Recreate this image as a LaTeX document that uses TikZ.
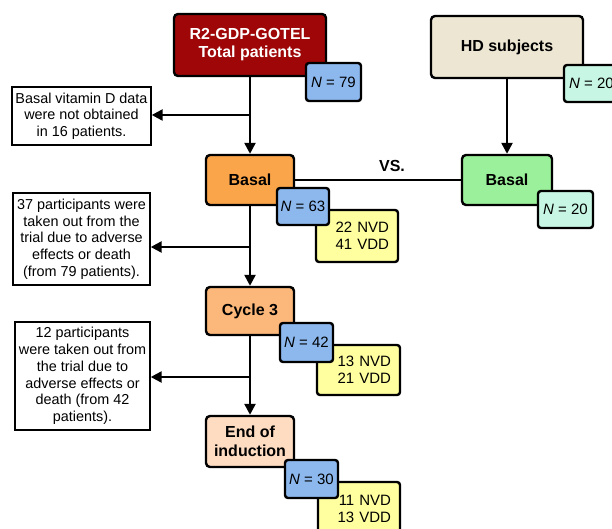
\documentclass[tikz,border=0pt]{standalone}
\usepackage{fontspec}
\setmainfont{Liberation Sans}
\usetikzlibrary{arrows.meta}
\definecolor{redbox}{RGB}{158,6,8}
\definecolor{nblue}{RGB}{140,184,238}
\definecolor{mint}{RGB}{200,246,228}
\definecolor{beige}{RGB}{237,230,211}
\definecolor{greenbox}{RGB}{155,240,155}
\definecolor{orangeA}{RGB}{251,165,74}
\definecolor{orangeB}{RGB}{251,184,122}
\definecolor{peach}{RGB}{253,220,194}
\definecolor{yell}{RGB}{255,255,160}
\begin{document}
\begin{tikzpicture}[x=1pt,y=-1pt,
  mainbox/.style={draw=black, line width=2.4pt, rounded corners=4pt, align=center, inner sep=0pt,
    font=\fontsize{16}{19}\selectfont\bfseries},
  nbox/.style={draw=black, line width=2.4pt, rounded corners=3pt, inner sep=0pt, fill=nblue,
    font=\fontsize{15}{17}\selectfont},
  countbox/.style={draw=black, line width=2.4pt, rounded corners=3pt, fill=yell, align=right,
    inner xsep=8pt, inner ysep=0pt, font=\fontsize{15}{17.5}\selectfont},
  note/.style={draw=black, line width=1.4pt, fill=white, align=center, inner sep=0pt,
    font=\fontsize{14.4}{16.7}\selectfont},
  conn/.style={line width=2.4pt},
  arr/.style={line width=2.4pt, -{Triangle[length=11pt,width=11pt]}}
]
\useasboundingbox (0,0) rectangle (612,529);
\clip (0,0) rectangle (612,529);
\fill[white] (0,0) rectangle (612,529);

% left column
\node[mainbox, fill=redbox, text=white, minimum width=152pt, minimum height=62pt] (red) at (250,45) {R2-GDP-GOTEL\\[-1pt]Total patients};
\node[nbox, minimum width=55pt, minimum height=38pt] (n79) at (333.5,82) {\textit{N} = 79};

\node[note, minimum width=139pt, minimum height=58pt] (note1) at (81.5,116) {Basal vitamin D data\\were not obtained\\in 16 patients.};

\node[mainbox, fill=orangeA, minimum width=88pt, minimum height=50pt] (basal) at (250,180) {Basal};
\node[countbox, minimum width=82pt, minimum height=52pt, text width=64pt] (y1) at (357,236) {22 NVD\\41 VDD};
\node[nbox, minimum width=52pt, minimum height=37pt] (n63) at (303,206.5) {\textit{N} = 63};

\node[note, minimum width=137pt, minimum height=92pt] (note2) at (81.5,239) {37 participants were\\taken out from the\\trial due to adverse\\effects or death\\(from 79 patients).};

\node[mainbox, fill=orangeB, minimum width=88pt, minimum height=48pt] (cycle) at (250,311) {Cycle 3};
\node[countbox, minimum width=83pt, minimum height=50pt, text width=65pt] (y2) at (358.5,370) {13 NVD\\21 VDD};
\node[nbox, minimum width=53pt, minimum height=39pt] (n42) at (306.5,342.5) {\textit{N} = 42};

\node[note, minimum width=135pt, minimum height=108pt] (note3) at (82.5,376) {12 participants\\were taken out from\\the trial due to\\adverse effects or\\death (from 42\\patients).};

\node[mainbox, fill=peach, minimum width=88pt, minimum height=51pt] (endind) at (250,441.5) {End of\\induction};
\node[countbox, minimum width=82pt, minimum height=54pt, text width=64pt] (y3) at (359,509) {11 NVD\\13 VDD};
\node[nbox, minimum width=53pt, minimum height=38pt] (n30) at (311.5,479) {\textit{N} = 30};

% right column
\node[mainbox, fill=beige, minimum width=152pt, minimum height=62pt] (hd) at (507,47) {HD subjects};
\node[nbox, fill=mint, minimum width=55pt, minimum height=37pt] (n20a) at (591.5,83.5) {\textit{N} = 20};
\node[mainbox, fill=greenbox, minimum width=90pt, minimum height=50pt] (green) at (507,180) {Basal};
\node[nbox, fill=mint, minimum width=55pt, minimum height=37pt] (n20b) at (565.5,209.5) {\textit{N} = 20};

\node[font=\fontsize{16}{19}\selectfont\bfseries, inner sep=0pt] (vs) at (392,166) {VS.};

% connectors
\coordinate (j1) at (250,115);
\coordinate (j2) at (250,247);
\coordinate (j3) at (250,377);
\draw[arr] (red) -- (basal);
\draw[arr] (j1) -- (j1 -| note1.east);
\draw[arr] (basal) -- (cycle);
\draw[arr] (j2) -- (j2 -| note2.east);
\draw[arr] (cycle) -- (endind);
\draw[arr] (j3) -- (j3 -| note3.east);
\draw[arr] (hd) -- (green);
\draw[conn] (basal.east) -- (green.west);
\end{tikzpicture}
\end{document}
